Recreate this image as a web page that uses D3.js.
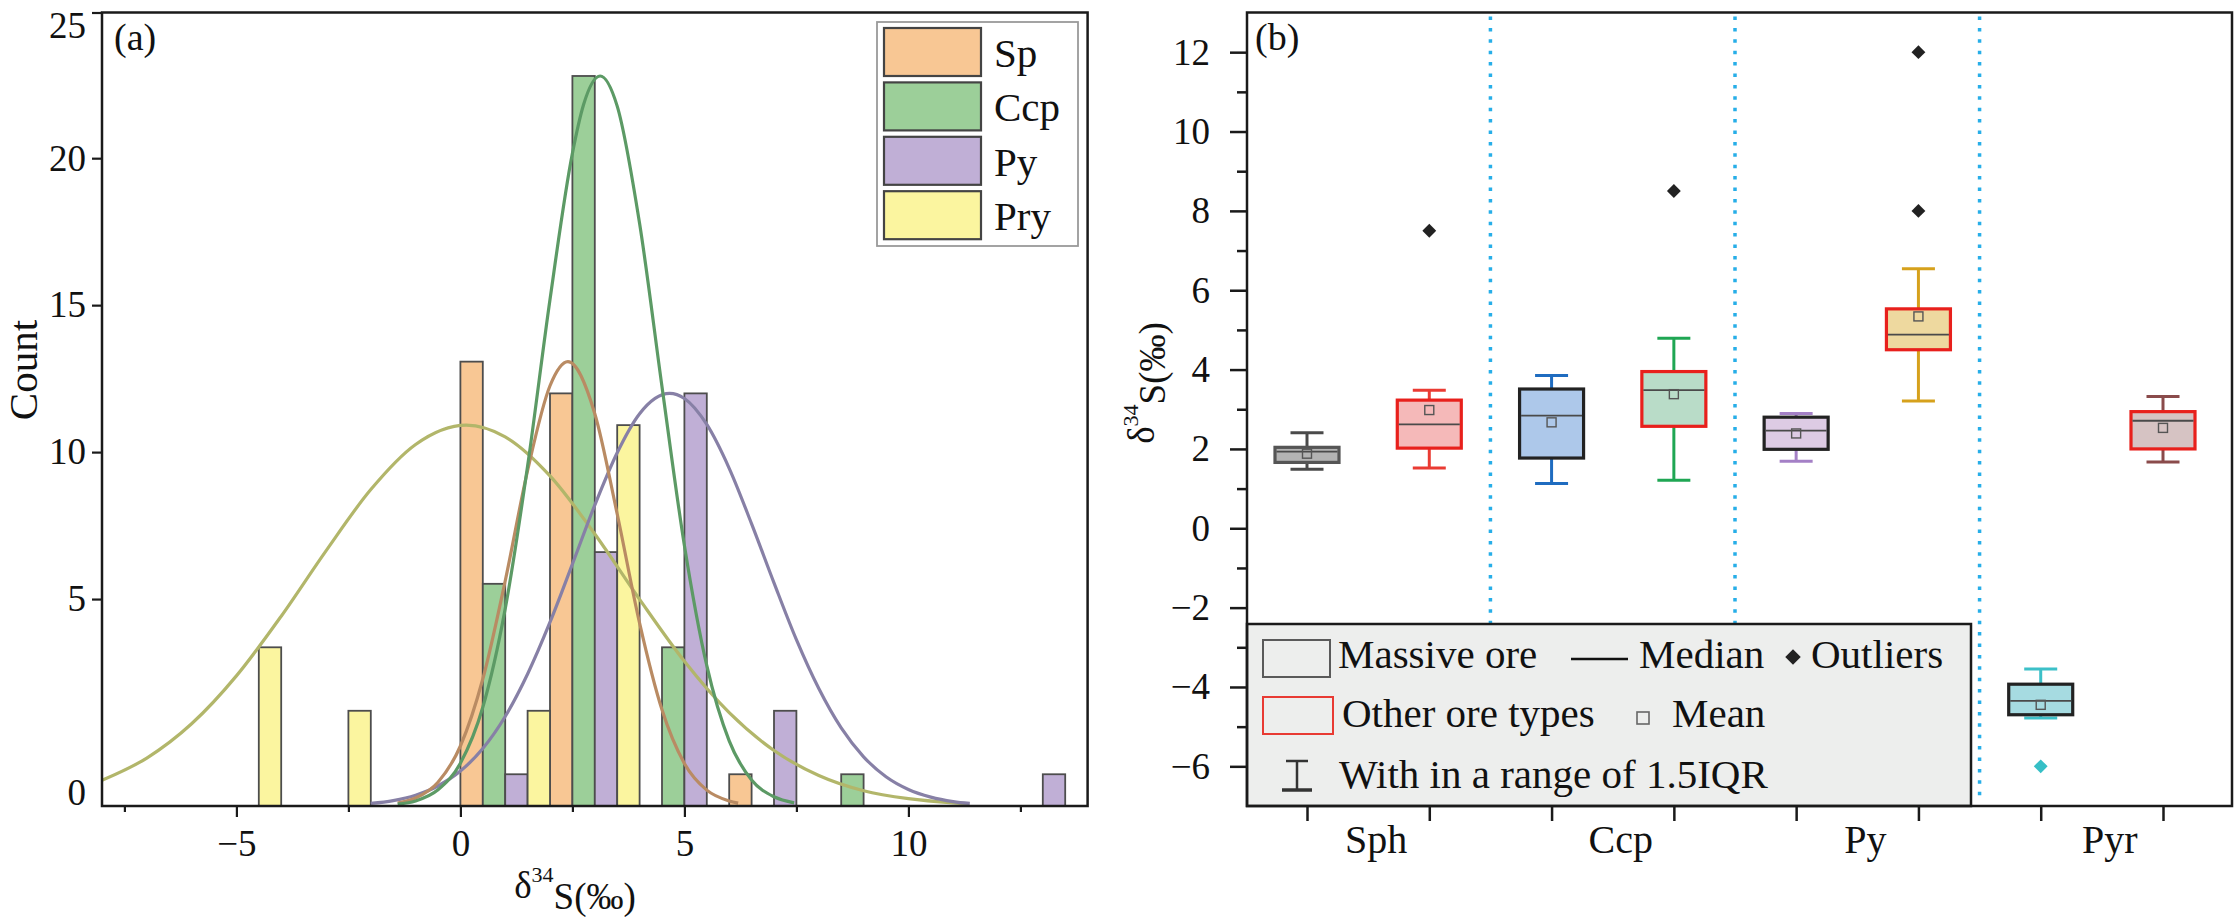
<!DOCTYPE html>
<html><head><meta charset="utf-8">
<script src="https://cdn.jsdelivr.net/npm/d3@7"></script>
<style>
html,body{margin:0;padding:0;background:#fff;}
svg{display:block;}
text{font-family:"Liberation Serif","Times New Roman",serif;fill:#111;}
</style></head>
<body>
<svg id="chart" width="2235" height="917"></svg>
<script>
// ================= DATA: panel (a) histogram =================
const seriesNames = ["Sp", "Ccp", "Py", "Pry"];
const binStarts = [-6, -4, -2, 0, 2, 4, 6, 8, 10, 12];
const binWidth = 2;
const countSp  = [0, 0, 0, 14, 13, 0, 1, 0, 0, 0];
const countCcp = [0, 0, 0, 7, 23, 5, 0, 1, 0, 0];
const countPy  = [0, 0, 0, 1, 8, 13, 3, 0, 0, 1];
const countPry = [5, 3, 0, 3, 12, 0, 0, 0, 0, 0];
// fitted distribution curves: [δ34S, count]
const fitSp  = [[-1.4,0.09],[-1.0,0.25],[-0.5,0.75],[0,1.89],[0.5,4.00],[1.0,7.09],[1.5,10.57],[2.0,13.24],[2.4,14.0],[3.0,12.36],[3.5,9.20],[4.0,5.76],[4.5,3.03],[5.0,1.34],[5.5,0.50],[6.0,0.16],[6.2,0.09]];
const fitCcp = [[-1.4,0.06],[-1.0,0.16],[-0.5,0.51],[0,1.35],[0.5,3.11],[1.0,6.21],[1.5,10.71],[2.0,15.96],[2.5,20.56],[2.75,22.10],[3.12,23.0],[3.5,22.05],[4.0,18.35],[4.5,13.21],[5.0,8.21],[5.5,4.42],[6.0,2.05],[6.5,0.82],[7.0,0.29],[7.45,0.10]];
const fitPy  = [[-2.0,0.08],[-1.5,0.17],[-1.0,0.34],[-0.5,0.63],[0,1.10],[0.5,1.81],[1.0,2.82],[1.5,4.16],[2.0,5.79],[2.5,7.62],[3.0,9.48],[3.5,11.13],[4.0,12.36],[4.67,13.0],[5.0,12.84],[5.5,12.02],[6.0,10.64],[6.5,8.89],[7.0,7.03],[7.5,5.24],[8.0,3.70],[8.5,2.46],[9.0,1.55],[9.5,0.92],[10.0,0.52],[10.5,0.28],[11.0,0.14],[11.37,0.08]];
const fitPry = [[-8.0,0.81],[-7.0,1.51],[-6.0,2.59],[-5.0,4.10],[-4.0,5.98],[-3.0,8.04],[-2.0,9.97],[-1.0,11.39],[0.13,12.0],[1.0,11.63],[2.0,10.40],[3.0,8.57],[4.0,6.51],[5.0,4.56],[6.0,2.94],[7.0,1.75],[8.0,0.96],[9.0,0.48],[10.0,0.23],[11.0,0.10],[11.36,0.07]];
const xTicksA = [-5, 0, 5, 10];
const xMinorA = [-7.5, -2.5, 2.5, 7.5, 12.5];
const yTickLabelsA = [0, 5, 10, 15, 20, 25];
const yTickAtA = [0, 6.52, 11.15, 15.78, 20.41, 25];   // where each label sits (count units)

// ================= DATA: panel (b) box plots =================
const boxGroups = ["Sph", "Ccp", "Py", "Pyr"];
const boxTypes = ["Massive ore", "Other ore types"];
const whiskerLow  = [1.49, 1.52, 1.13, 1.21, 1.69, 3.21, -4.78, 1.67];
const q1          = [1.66, 2.02, 1.77, 2.57, 1.99, 4.50, -4.70, 2.00];
const median      = [1.93, 2.62, 2.84, 3.48, 2.46, 4.88, -4.35, 2.71];
const q3          = [2.04, 3.23, 3.51, 3.95, 2.80, 5.53, -3.93, 2.94];
const whiskerHigh = [2.41, 3.48, 3.85, 4.79, 2.89, 6.54, -3.55, 3.32];
const meanVal     = [1.88, 2.98, 2.67, 3.38, 2.39, 5.34, -4.45, 2.53];
const outliers    = [[], [7.5], [], [8.5], [], [12, 8], [-6.0], []];
const yTicksB = [-6, -4, -2, 0, 2, 4, 6, 8, 10, 12];
const yMinorB = [-5, -3, -1, 1, 3, 5, 7, 9, 11];

// ================= STYLE =================
const barFill = {Sp:"#f8c794", Ccp:"#9ccf99", Py:"#c0afd6", Pry:"#fbf59f"};
const fitColor = {Sp:"#b98b63", Ccp:"#5c9a65", Py:"#8780a6", Pry:"#b2b66a"};
const boxFill = ["#b3b3b3","#f5b9b9","#adc8ea","#b9dcc8","#ddcbe4","#eed99f","#a6dbe1","#d6c3c3"];
const whiskerColor = ["#4a4a4a","#ea3b33","#1f6cc0","#1fa653","#a480c6","#d6a11c","#3cc0c8","#8a4b4b"];
const boxStroke = ["#555555","#e8201c","#222222","#e8201c","#222222","#e8201c","#222222","#e8201c"];
const outlierColor = ["#222","#222","#222","#222","#222","#222","#36bfc6","#222"];

const svg = d3.select("#chart");
const TOP = 12.5, BOTTOM = 806;
const A = {left: 102, right: 1087.6};
const B = {left: 1247, right: 2232};
const tickFont = 37;

// ================= PANEL (a) =================
const xA = d3.scaleLinear().domain([-8, 14]).range([A.left, A.right]);
const yA = d3.scaleLinear().domain([0, 25]).range([BOTTOM, TOP]);
const sub = d3.scaleBand().domain(seriesNames).range([0, binWidth]);
const counts = {Sp: countSp, Ccp: countCcp, Py: countPy, Pry: countPry};
const fits = {Sp: fitSp, Ccp: fitCcp, Py: fitPy, Pry: fitPry};

svg.append("defs").append("clipPath").attr("id","clipA")
  .append("rect").attr("x",A.left).attr("y",TOP).attr("width",A.right-A.left).attr("height",BOTTOM-TOP);

const barData = [];
seriesNames.forEach(s => counts[s].forEach((c, i) => { if (c > 0) barData.push({s, start: binStarts[i], c}); }));
svg.append("g").selectAll("rect").data(barData).join("rect")
  .attr("x", d => xA(d.start + sub(d.s)))
  .attr("width", d => xA(d.start + sub(d.s) + sub.bandwidth()) - xA(d.start + sub(d.s)))
  .attr("y", d => yA(d.c))
  .attr("height", d => yA(0) - yA(d.c))
  .attr("fill", d => barFill[d.s]).attr("stroke", "#4d4d4d").attr("stroke-width", 1.8);

const line = d3.line().x(d => xA(d[0])).y(d => yA(d[1])).curve(d3.curveMonotoneX);
const fitG = svg.append("g").attr("clip-path","url(#clipA)");
["Pry","Py","Sp","Ccp"].forEach(s => {
  fitG.append("path").attr("d", line(fits[s])).attr("fill","none")
    .attr("stroke", fitColor[s]).attr("stroke-width", 3.2);
});

// frame
svg.append("rect").attr("x",A.left).attr("y",TOP).attr("width",A.right-A.left).attr("height",BOTTOM-TOP)
  .attr("fill","none").attr("stroke","#1a1a1a").attr("stroke-width",2.5);

// axes
const axAx = svg.append("g").attr("transform",`translate(0,${BOTTOM})`)
  .call(d3.axisBottom(xA).tickValues(xTicksA).tickSize(11).tickPadding(13).tickFormat(d3.format("")));
svg.append("g").attr("transform",`translate(0,${BOTTOM})`)
  .call(d3.axisBottom(xA).tickValues(xMinorA).tickSize(6).tickFormat(""));
const ayAx = svg.append("g").attr("transform",`translate(${A.left},0)`)
  .call(d3.axisLeft(yA).tickValues(yTickAtA).tickSize(10).tickPadding(6).tickFormat((d,i) => yTickLabelsA[i]));
ayAx.selectAll(".tick").filter((d,i) => i === 0).select("line").remove();
ayAx.selectAll(".tick text").filter((d,i) => i === 0).attr("dy","-0.03em");
ayAx.selectAll(".tick text").filter((d,i) => i === yTickAtA.length-1).attr("dy","0.68em");
svg.selectAll(".domain").remove();
svg.selectAll(".tick line").attr("stroke","#1a1a1a").attr("stroke-width",2.2);
svg.selectAll(".tick text").style("font-size", tickFont+"px").attr("fill","#111");

svg.append("text").attr("x",114).attr("y",50).style("font-size","38px").text("(a)");
svg.append("text").attr("transform","translate(37,370) rotate(-90)").attr("text-anchor","middle")
  .style("font-size","41px").text("Count");
const xt = svg.append("text").attr("x",575).attr("y",898).attr("text-anchor","middle").style("font-size","37px");
xt.append("tspan").text("δ");
xt.append("tspan").attr("dy","-0.75em").style("font-size","22px").text("34");
xt.append("tspan").attr("dy","0.75em").text("S(‰)");

// legend (a)
const legA = svg.append("g");
legA.append("rect").attr("x",877).attr("y",22).attr("width",201).attr("height",224)
  .attr("fill","#fff").attr("stroke","#9a9a9a").attr("stroke-width",1.8);
seriesNames.forEach((s,i) => {
  const y0 = 28 + i*54.4;
  legA.append("rect").attr("x",884).attr("y",y0).attr("width",97).attr("height",48)
    .attr("fill",barFill[s]).attr("stroke","#444").attr("stroke-width",2.2);
  legA.append("text").attr("x",994).attr("y",y0+39).style("font-size","41px").text(s);
});

// ================= PANEL (b) =================
const xB = d3.scaleLinear().domain([0, 7]).range([1307, 2163]);
const yB = d3.scaleLinear().domain([-7, 13]).range([BOTTOM, TOP]);
const boxW = 64, capW = 33;

// separators
[1.5, 3.5, 5.5].forEach(v => {
  svg.append("line").attr("x1",xB(v)).attr("x2",xB(v)).attr("y1",TOP+4).attr("y2",BOTTOM-6)
    .attr("stroke","#27aee8").attr("stroke-width",3.5).attr("stroke-dasharray","3.5 7.9");
});

const boxG = svg.append("g");
q1.forEach((_, i) => {
  const cx = xB(i);
  const g = boxG.append("g");
  const wc = whiskerColor[i];
  // whiskers
  g.append("line").attr("x1",cx).attr("x2",cx).attr("y1",yB(whiskerHigh[i])).attr("y2",yB(q3[i]))
    .attr("stroke",wc).attr("stroke-width",3);
  g.append("line").attr("x1",cx).attr("x2",cx).attr("y1",yB(q1[i])).attr("y2",yB(whiskerLow[i]))
    .attr("stroke",wc).attr("stroke-width",3);
  [whiskerHigh[i], whiskerLow[i]].forEach(v => {
    g.append("line").attr("x1",cx-capW/2).attr("x2",cx+capW/2).attr("y1",yB(v)).attr("y2",yB(v))
      .attr("stroke",wc).attr("stroke-width",3);
  });
  // box
  g.append("rect").attr("x",cx-boxW/2).attr("width",boxW).attr("y",yB(q3[i])).attr("height",yB(q1[i])-yB(q3[i]))
    .attr("fill",boxFill[i]).attr("stroke",boxStroke[i]).attr("stroke-width",3.2);
  // median
  g.append("line").attr("x1",cx-boxW/2+1.5).attr("x2",cx+boxW/2-1.5).attr("y1",yB(median[i])).attr("y2",yB(median[i]))
    .attr("stroke","#4a4a4a").attr("stroke-width",1.8);
  // mean
  g.append("rect").attr("x",cx-4.5).attr("y",yB(meanVal[i])-4.5).attr("width",9).attr("height",9)
    .attr("fill","none").attr("stroke","#555").attr("stroke-width",1.4);
  // outliers
  outliers[i].forEach(v => {
    g.append("path").attr("d", d3.symbol(d3.symbolSquare, 96)())
      .attr("transform",`translate(${cx},${yB(v)}) rotate(45)`).attr("fill",outlierColor[i]);
  });
});

// legend (b)
const legB = svg.append("g");
legB.append("rect").attr("x",B.left).attr("y",624).attr("width",1971-B.left).attr("height",BOTTOM-624)
  .attr("fill","#edeeed").attr("stroke","#1a1a1a").attr("stroke-width",2.5);
const legFont = "41px";
legB.append("rect").attr("x",1263).attr("y",640).attr("width",67).attr("height",37)
  .attr("fill","none").attr("stroke","#5a5a5a").attr("stroke-width",2);
legB.append("text").attr("x",1338).attr("y",668).style("font-size",legFont).text(boxTypes[0]);
legB.append("line").attr("x1",1571).attr("x2",1628).attr("y1",659).attr("y2",659).attr("stroke","#111").attr("stroke-width",2.5);
legB.append("text").attr("x",1639).attr("y",668).style("font-size",legFont).text("Median");
legB.append("path").attr("d", d3.symbol(d3.symbolSquare, 120)()).attr("transform","translate(1793,657) rotate(45)").attr("fill","#222");
legB.append("text").attr("x",1811).attr("y",668).style("font-size",legFont).text("Outliers");
legB.append("rect").attr("x",1263).attr("y",697).attr("width",70).attr("height",37)
  .attr("fill","none").attr("stroke","#e83a33").attr("stroke-width",2);
legB.append("text").attr("x",1342).attr("y",727).style("font-size",legFont).text(boxTypes[1]);
legB.append("rect").attr("x",1637).attr("y",712).attr("width",12).attr("height",12)
  .attr("fill","none").attr("stroke","#666").attr("stroke-width",1.6);
legB.append("text").attr("x",1672).attr("y",727).style("font-size",legFont).text("Mean");
legB.append("line").attr("x1",1297).attr("x2",1297).attr("y1",761).attr("y2",790).attr("stroke","#333").attr("stroke-width",2.5);
legB.append("line").attr("x1",1286).attr("x2",1308).attr("y1",761).attr("y2",761).attr("stroke","#333").attr("stroke-width",2.5);
legB.append("line").attr("x1",1282).attr("x2",1312).attr("y1",790).attr("y2",790).attr("stroke","#333").attr("stroke-width",3.5);
legB.append("text").attr("x",1339).attr("y",788).style("font-size",legFont).text("With in a range of 1.5IQR");

// frame (b)
svg.append("rect").attr("x",B.left).attr("y",TOP).attr("width",B.right-B.left).attr("height",BOTTOM-TOP)
  .attr("fill","none").attr("stroke","#1a1a1a").attr("stroke-width",2.5);

// axes (b)
const byAx = svg.append("g").attr("transform",`translate(${B.left},0)`)
  .call(d3.axisLeft(yB).tickValues(yTicksB).tickSize(17).tickPadding(20));
const byMin = svg.append("g").attr("transform",`translate(${B.left},0)`)
  .call(d3.axisLeft(yB).tickValues(yMinorB).tickSize(10).tickFormat(""));
const bxAx = svg.append("g").attr("transform",`translate(0,${BOTTOM})`)
  .call(d3.axisBottom(xB).tickValues(d3.range(0,8)).tickSize(15).tickFormat(""));
[byAx, byMin, bxAx].forEach(g => {
  g.select(".domain").remove();
  g.selectAll(".tick line").attr("stroke","#1a1a1a").attr("stroke-width",2.5);
  g.selectAll(".tick text").style("font-size", tickFont+"px").attr("fill","#111");
});
boxGroups.forEach((name, k) => {
  svg.append("text").attr("x", (xB(2*k)+xB(2*k+1))/2 + 8).attr("y",853).attr("text-anchor","middle")
    .style("font-size","40px").text(name);
});
svg.append("text").attr("x",1255).attr("y",50).style("font-size","38px").text("(b)");
const yt = svg.append("text").attr("transform","translate(1154,383) rotate(-90)").attr("text-anchor","middle").style("font-size","37px");
yt.append("tspan").text("δ");
yt.append("tspan").attr("dy","-0.75em").style("font-size","22px").text("34");
yt.append("tspan").attr("dy","0.75em").text("S(‰)");
</script>
</body></html>
